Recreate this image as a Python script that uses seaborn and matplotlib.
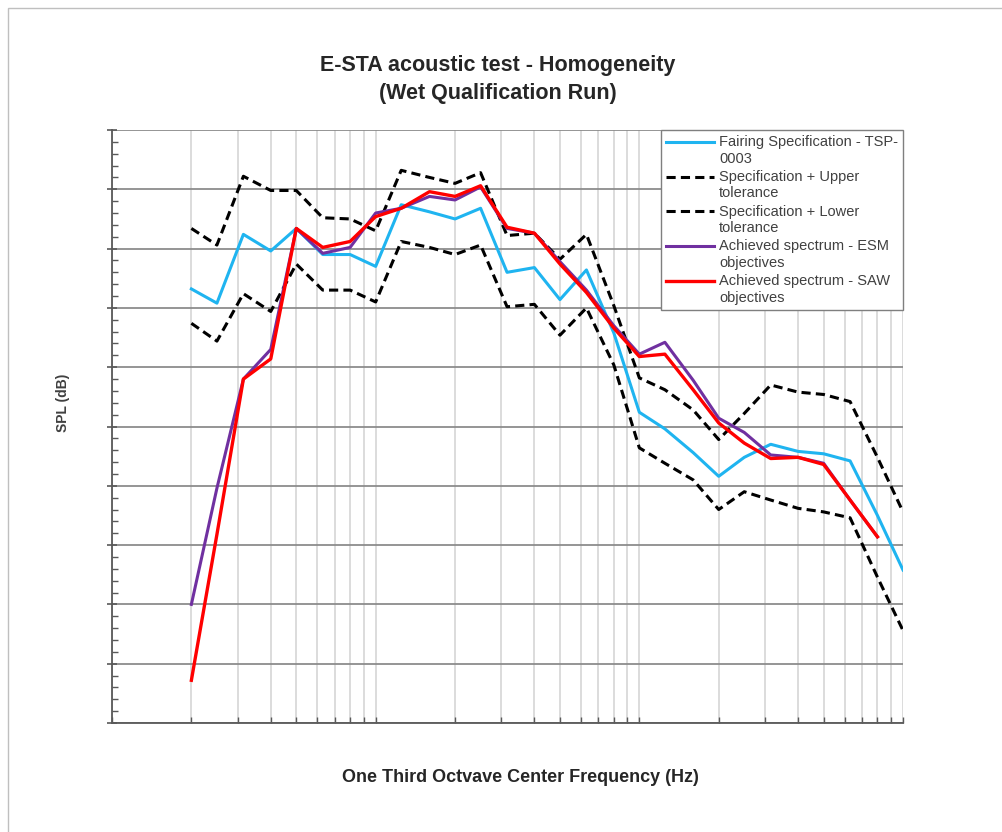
import numpy as np
import pandas as pd
import matplotlib
matplotlib.use("Agg")
import matplotlib.pyplot as plt
import matplotlib.ticker as mticker
from matplotlib.patches import Rectangle
import seaborn as sns

plt.rcParams["font.family"] = ["Liberation Sans", "DejaVu Sans"]

# one-third octave centre frequencies (Hz)
freqs = [20, 25, 31.5, 40, 50, 63, 80, 100, 125, 160, 200, 250, 315, 400, 500,
         630, 800, 1000, 1250, 1600, 2000, 2500, 3150, 4000, 5000, 6300, 8000, 10000]

# SPL (dB)
spec = [136.6, 135.4, 141.2, 139.8, 141.7, 139.5, 139.5, 138.5, 143.7, 143.1, 142.5, 143.4, 138.0, 138.4,
        135.7, 138.2, 132.9, 126.2, 124.8, 122.8, 120.8, 122.4, 123.5, 122.9, 122.7, 122.1, 117.5, 112.9]
upper = [141.7, 140.3, 146.1, 144.9, 144.9, 142.6, 142.5, 141.5, 146.6, 146.0, 145.5, 146.4, 141.1, 141.3,
         139.1, 141.2, 135.2, 129.1, 128.1, 126.4, 123.9, 126.1, 128.5, 127.9, 127.7, 127.1, 122.4, 117.8]
lower = [133.7, 132.2, 136.2, 134.7, 138.7, 136.5, 136.5, 135.5, 140.6, 140.1, 139.5, 140.3, 135.1, 135.3,
         132.7, 135.0, 130.2, 123.2, 121.9, 120.5, 118.0, 119.5, 118.8, 118.1, 117.8, 117.3, 112.3, 107.8]
esm = [110.0, 119.8, 129.0, 131.5, 141.7, 139.6, 140.1, 143.0, 143.4, 144.4, 144.1, 145.2, 141.7, 141.3,
       138.9, 136.5, 133.5, 131.1, 132.1, 128.9, 125.7, 124.5, 122.6, 122.4, 121.9, 118.8, 115.7, np.nan]
saw = [103.6, 115.9, 129.0, 130.7, 141.7, 140.1, 140.6, 142.7, 143.4, 144.8, 144.4, 145.3, 141.8, 141.3,
       138.7, 136.3, 133.3, 130.9, 131.1, 128.1, 125.3, 123.6, 122.3, 122.4, 121.8, 118.8, 115.7, np.nan]

labels = ["Fairing Specification - TSP-\n0003",
          "Specification + Upper\ntolerance",
          "Specification + Lower\ntolerance",
          "Achieved spectrum - ESM\nobjectives",
          "Achieved spectrum - SAW\nobjectives"]

df = pd.DataFrame({"freq": freqs, "spec": spec, "upper": upper, "lower": lower,
                   "esm": esm, "saw": saw})

fig = plt.figure(figsize=(10.03, 8.32), dpi=100)
ax = fig.add_axes([112 / 1003, 1 - 723 / 832, (903 - 112) / 1003, (723 - 130) / 832])

dash = (0, (3, 1.7))
styles = [("spec", "#1fb4f0", "-", 2.2),
          ("upper", "black", dash, 2.2),
          ("lower", "black", dash, 2.2),
          ("esm", "#7030a0", "-", 2.2),
          ("saw", "#ff0000", "-", 2.4)]

for (col, color, ls, lw), lab in zip(styles, labels):
    d = df[["freq", col]].dropna()
    sns.lineplot(data=d, x="freq", y=col, color=color, linestyle=ls, lw=lw,
                 label=lab, ax=ax, zorder=3)

ax.set_xscale("log")
ax.set_xlim(10, 10000)
ax.set_ylim(100, 150)
ax.yaxis.set_major_locator(mticker.MultipleLocator(5))
ax.yaxis.set_minor_locator(mticker.MultipleLocator(1))
ax.xaxis.set_major_locator(mticker.LogLocator(base=10))
ax.xaxis.set_minor_locator(mticker.LogLocator(base=10, subs=np.arange(2, 10)))

ax.grid(axis="x", which="both", color="#d9d9d9", lw=1.3, zorder=0)
ax.grid(axis="y", which="major", color="#8c8c8c", lw=1.3, zorder=1)
ax.set_axisbelow(True)

ax.tick_params(labelleft=False, labelbottom=False)
ax.tick_params(axis="y", which="major", direction="inout", length=7, color="#595959", width=1.2)
ax.tick_params(axis="y", which="minor", direction="in", length=4, color="#595959", width=1)
ax.tick_params(axis="x", which="both", direction="in", length=4, color="#595959", width=1)
ax.set_xlabel("")
ax.set_ylabel("")

for side in ["top", "right"]:
    ax.spines[side].set_visible(False)
for side in ["left", "bottom"]:
    ax.spines[side].set_color("#595959")
    ax.spines[side].set_linewidth(1.3)

leg = ax.legend(loc="upper right", bbox_to_anchor=(1.0, 1.0), borderaxespad=0,
                fontsize=10.5, frameon=True, fancybox=False, framealpha=1,
                edgecolor="#7f7f7f", handlelength=3.3, handletextpad=0.35,
                labelspacing=0.3, borderpad=0.35)
leg.get_frame().set_linewidth(1.0)
for t in leg.get_texts():
    t.set_color("#404040")
    t.set_linespacing(1.22)
# Excel puts the key next to the first line of a wrapped label
for h in leg.legend_handles:
    h.set_ydata(np.asarray(h.get_ydata()) + 6.4)

fig.text(498 / 1003, 1 - 79.5 / 832,
         "E-STA acoustic test - Homogeneity\n(Wet Qualification Run)",
         ha="center", va="center", fontsize=15.5, fontweight="bold",
         color="#262626", linespacing=1.4)
fig.text(520 / 1003, 1 - 778 / 832, "One Third Octvave Center Frequency (Hz)",
         ha="center", va="center", fontsize=13, fontweight="bold", color="#262626")
fig.text(63 / 1003, 1 - 403 / 832, "SPL (dB)", rotation=90, ha="center", va="center",
         fontsize=10, fontweight="bold", color="#404040")

# chart frame (only top/left edges visible in the crop)
fig.patches.append(Rectangle((8 / 1003, -0.1), 1.2, 1.1 - 8 / 832,
                             transform=fig.transFigure, fill=False,
                             edgecolor="#bfbfbf", lw=1))

fig.savefig("out.png", dpi=100)
